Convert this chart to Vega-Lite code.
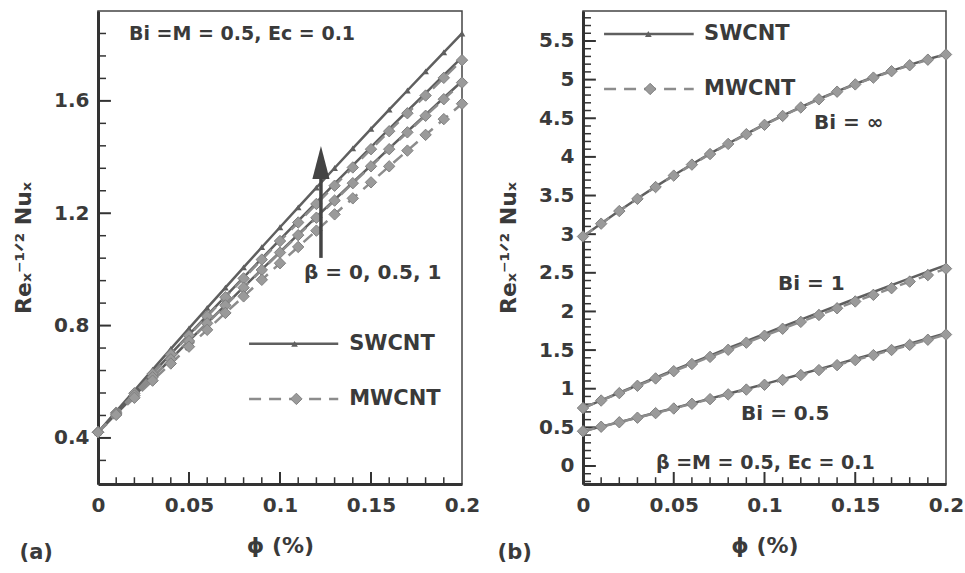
{
"$schema": "https://vega.github.io/schema/vega-lite/v6.json",
"background": "white",
"padding": {"left": 11, "top": 10, "right": 5, "bottom": 0},
"spacing": 15,
"config": {
  "view": {"stroke": "#444", "strokeWidth": 1.5},
  "font": "DejaVu Sans",
  "axis": {"grid": false, "ticks": false, "tickSize": 0, "domainColor": "#333", "domainWidth": 3, "labelFont": "DejaVu Sans", "labelFontSize": 20, "labelFontWeight": "bold", "labelColor": "#3a3a3a", "titleFont": "DejaVu Sans", "titleFontSize": 22, "titleFontWeight": "bold", "titleColor": "#3a3a3a", "labelFlush": false, "labelOverlap": false},
  "axisX": {"labelPadding": 11, "titlePadding": 20},
  "axisY": {"labelPadding": 9, "titlePadding": 18},
  "text": {"font": "DejaVu Sans", "fontWeight": "bold", "color": "#3a3a3a", "fontSize": 20, "align": "left", "baseline": "middle"}
},
"datasets": {
"a": [
{"phi":0,"nu":0.42,"fluid":"SWCNT","beta":"1"},{"phi":0.01,"nu":0.495,"fluid":"SWCNT","beta":"1"},{"phi":0.02,"nu":0.569,"fluid":"SWCNT","beta":"1"},{"phi":0.03,"nu":0.643,"fluid":"SWCNT","beta":"1"},{"phi":0.04,"nu":0.717,"fluid":"SWCNT","beta":"1"},{"phi":0.05,"nu":0.79,"fluid":"SWCNT","beta":"1"},{"phi":0.06,"nu":0.863,"fluid":"SWCNT","beta":"1"},{"phi":0.07,"nu":0.935,"fluid":"SWCNT","beta":"1"},{"phi":0.08,"nu":1.007,"fluid":"SWCNT","beta":"1"},{"phi":0.09,"nu":1.079,"fluid":"SWCNT","beta":"1"},{"phi":0.1,"nu":1.15,"fluid":"SWCNT","beta":"1"},{"phi":0.11,"nu":1.221,"fluid":"SWCNT","beta":"1"},{"phi":0.12,"nu":1.291,"fluid":"SWCNT","beta":"1"},{"phi":0.13,"nu":1.361,"fluid":"SWCNT","beta":"1"},{"phi":0.14,"nu":1.431,"fluid":"SWCNT","beta":"1"},{"phi":0.15,"nu":1.5,"fluid":"SWCNT","beta":"1"},{"phi":0.16,"nu":1.569,"fluid":"SWCNT","beta":"1"},{"phi":0.17,"nu":1.637,"fluid":"SWCNT","beta":"1"},{"phi":0.18,"nu":1.705,"fluid":"SWCNT","beta":"1"},{"phi":0.19,"nu":1.773,"fluid":"SWCNT","beta":"1"},{"phi":0.2,"nu":1.84,"fluid":"SWCNT","beta":"1"},
{"phi":0,"nu":0.42,"fluid":"SWCNT","beta":"0.5"},{"phi":0.01,"nu":0.49,"fluid":"SWCNT","beta":"0.5"},{"phi":0.02,"nu":0.56,"fluid":"SWCNT","beta":"0.5"},{"phi":0.03,"nu":0.63,"fluid":"SWCNT","beta":"0.5"},{"phi":0.04,"nu":0.699,"fluid":"SWCNT","beta":"0.5"},{"phi":0.05,"nu":0.768,"fluid":"SWCNT","beta":"0.5"},{"phi":0.06,"nu":0.836,"fluid":"SWCNT","beta":"0.5"},{"phi":0.07,"nu":0.904,"fluid":"SWCNT","beta":"0.5"},{"phi":0.08,"nu":0.972,"fluid":"SWCNT","beta":"0.5"},{"phi":0.09,"nu":1.039,"fluid":"SWCNT","beta":"0.5"},{"phi":0.1,"nu":1.106,"fluid":"SWCNT","beta":"0.5"},{"phi":0.11,"nu":1.173,"fluid":"SWCNT","beta":"0.5"},{"phi":0.12,"nu":1.239,"fluid":"SWCNT","beta":"0.5"},{"phi":0.13,"nu":1.305,"fluid":"SWCNT","beta":"0.5"},{"phi":0.14,"nu":1.37,"fluid":"SWCNT","beta":"0.5"},{"phi":0.15,"nu":1.435,"fluid":"SWCNT","beta":"0.5"},{"phi":0.16,"nu":1.5,"fluid":"SWCNT","beta":"0.5"},{"phi":0.17,"nu":1.564,"fluid":"SWCNT","beta":"0.5"},{"phi":0.18,"nu":1.628,"fluid":"SWCNT","beta":"0.5"},{"phi":0.19,"nu":1.692,"fluid":"SWCNT","beta":"0.5"},{"phi":0.2,"nu":1.755,"fluid":"SWCNT","beta":"0.5"},
{"phi":0,"nu":0.42,"fluid":"SWCNT","beta":"0"},{"phi":0.01,"nu":0.486,"fluid":"SWCNT","beta":"0"},{"phi":0.02,"nu":0.551,"fluid":"SWCNT","beta":"0"},{"phi":0.03,"nu":0.616,"fluid":"SWCNT","beta":"0"},{"phi":0.04,"nu":0.681,"fluid":"SWCNT","beta":"0"},{"phi":0.05,"nu":0.746,"fluid":"SWCNT","beta":"0"},{"phi":0.06,"nu":0.81,"fluid":"SWCNT","beta":"0"},{"phi":0.07,"nu":0.873,"fluid":"SWCNT","beta":"0"},{"phi":0.08,"nu":0.937,"fluid":"SWCNT","beta":"0"},{"phi":0.09,"nu":1.0,"fluid":"SWCNT","beta":"0"},{"phi":0.1,"nu":1.062,"fluid":"SWCNT","beta":"0"},{"phi":0.11,"nu":1.125,"fluid":"SWCNT","beta":"0"},{"phi":0.12,"nu":1.187,"fluid":"SWCNT","beta":"0"},{"phi":0.13,"nu":1.248,"fluid":"SWCNT","beta":"0"},{"phi":0.14,"nu":1.31,"fluid":"SWCNT","beta":"0"},{"phi":0.15,"nu":1.37,"fluid":"SWCNT","beta":"0"},{"phi":0.16,"nu":1.431,"fluid":"SWCNT","beta":"0"},{"phi":0.17,"nu":1.491,"fluid":"SWCNT","beta":"0"},{"phi":0.18,"nu":1.551,"fluid":"SWCNT","beta":"0"},{"phi":0.19,"nu":1.611,"fluid":"SWCNT","beta":"0"},{"phi":0.2,"nu":1.67,"fluid":"SWCNT","beta":"0"},
{"phi":0,"nu":0.42,"fluid":"MWCNT","beta":"1"},{"phi":0.01,"nu":0.49,"fluid":"MWCNT","beta":"1"},{"phi":0.02,"nu":0.559,"fluid":"MWCNT","beta":"1"},{"phi":0.03,"nu":0.628,"fluid":"MWCNT","beta":"1"},{"phi":0.04,"nu":0.697,"fluid":"MWCNT","beta":"1"},{"phi":0.05,"nu":0.765,"fluid":"MWCNT","beta":"1"},{"phi":0.06,"nu":0.833,"fluid":"MWCNT","beta":"1"},{"phi":0.07,"nu":0.901,"fluid":"MWCNT","beta":"1"},{"phi":0.08,"nu":0.968,"fluid":"MWCNT","beta":"1"},{"phi":0.09,"nu":1.035,"fluid":"MWCNT","beta":"1"},{"phi":0.1,"nu":1.101,"fluid":"MWCNT","beta":"1"},{"phi":0.11,"nu":1.167,"fluid":"MWCNT","beta":"1"},{"phi":0.12,"nu":1.233,"fluid":"MWCNT","beta":"1"},{"phi":0.13,"nu":1.298,"fluid":"MWCNT","beta":"1"},{"phi":0.14,"nu":1.363,"fluid":"MWCNT","beta":"1"},{"phi":0.15,"nu":1.428,"fluid":"MWCNT","beta":"1"},{"phi":0.16,"nu":1.492,"fluid":"MWCNT","beta":"1"},{"phi":0.17,"nu":1.556,"fluid":"MWCNT","beta":"1"},{"phi":0.18,"nu":1.619,"fluid":"MWCNT","beta":"1"},{"phi":0.19,"nu":1.682,"fluid":"MWCNT","beta":"1"},{"phi":0.2,"nu":1.745,"fluid":"MWCNT","beta":"1"},
{"phi":0,"nu":0.42,"fluid":"MWCNT","beta":"0.5"},{"phi":0.01,"nu":0.486,"fluid":"MWCNT","beta":"0.5"},{"phi":0.02,"nu":0.551,"fluid":"MWCNT","beta":"0.5"},{"phi":0.03,"nu":0.616,"fluid":"MWCNT","beta":"0.5"},{"phi":0.04,"nu":0.68,"fluid":"MWCNT","beta":"0.5"},{"phi":0.05,"nu":0.745,"fluid":"MWCNT","beta":"0.5"},{"phi":0.06,"nu":0.808,"fluid":"MWCNT","beta":"0.5"},{"phi":0.07,"nu":0.872,"fluid":"MWCNT","beta":"0.5"},{"phi":0.08,"nu":0.935,"fluid":"MWCNT","beta":"0.5"},{"phi":0.09,"nu":0.998,"fluid":"MWCNT","beta":"0.5"},{"phi":0.1,"nu":1.06,"fluid":"MWCNT","beta":"0.5"},{"phi":0.11,"nu":1.122,"fluid":"MWCNT","beta":"0.5"},{"phi":0.12,"nu":1.184,"fluid":"MWCNT","beta":"0.5"},{"phi":0.13,"nu":1.245,"fluid":"MWCNT","beta":"0.5"},{"phi":0.14,"nu":1.307,"fluid":"MWCNT","beta":"0.5"},{"phi":0.15,"nu":1.367,"fluid":"MWCNT","beta":"0.5"},{"phi":0.16,"nu":1.428,"fluid":"MWCNT","beta":"0.5"},{"phi":0.17,"nu":1.488,"fluid":"MWCNT","beta":"0.5"},{"phi":0.18,"nu":1.547,"fluid":"MWCNT","beta":"0.5"},{"phi":0.19,"nu":1.606,"fluid":"MWCNT","beta":"0.5"},{"phi":0.2,"nu":1.665,"fluid":"MWCNT","beta":"0.5"},
{"phi":0,"nu":0.42,"fluid":"MWCNT","beta":"0"},{"phi":0.01,"nu":0.482,"fluid":"MWCNT","beta":"0"},{"phi":0.02,"nu":0.543,"fluid":"MWCNT","beta":"0"},{"phi":0.03,"nu":0.604,"fluid":"MWCNT","beta":"0"},{"phi":0.04,"nu":0.665,"fluid":"MWCNT","beta":"0"},{"phi":0.05,"nu":0.725,"fluid":"MWCNT","beta":"0"},{"phi":0.06,"nu":0.785,"fluid":"MWCNT","beta":"0"},{"phi":0.07,"nu":0.845,"fluid":"MWCNT","beta":"0"},{"phi":0.08,"nu":0.904,"fluid":"MWCNT","beta":"0"},{"phi":0.09,"nu":0.963,"fluid":"MWCNT","beta":"0"},{"phi":0.1,"nu":1.022,"fluid":"MWCNT","beta":"0"},{"phi":0.11,"nu":1.08,"fluid":"MWCNT","beta":"0"},{"phi":0.12,"nu":1.138,"fluid":"MWCNT","beta":"0"},{"phi":0.13,"nu":1.196,"fluid":"MWCNT","beta":"0"},{"phi":0.14,"nu":1.253,"fluid":"MWCNT","beta":"0"},{"phi":0.15,"nu":1.31,"fluid":"MWCNT","beta":"0"},{"phi":0.16,"nu":1.367,"fluid":"MWCNT","beta":"0"},{"phi":0.17,"nu":1.423,"fluid":"MWCNT","beta":"0"},{"phi":0.18,"nu":1.479,"fluid":"MWCNT","beta":"0"},{"phi":0.19,"nu":1.535,"fluid":"MWCNT","beta":"0"},{"phi":0.2,"nu":1.59,"fluid":"MWCNT","beta":"0"}
],
"b": [
{"phi":0,"nu":2.97,"fluid":"SWCNT","Bi":"inf"},{"phi":0.01,"nu":3.139,"fluid":"SWCNT","Bi":"inf"},{"phi":0.02,"nu":3.303,"fluid":"SWCNT","Bi":"inf"},{"phi":0.03,"nu":3.462,"fluid":"SWCNT","Bi":"inf"},{"phi":0.04,"nu":3.615,"fluid":"SWCNT","Bi":"inf"},{"phi":0.05,"nu":3.763,"fluid":"SWCNT","Bi":"inf"},{"phi":0.06,"nu":3.905,"fluid":"SWCNT","Bi":"inf"},{"phi":0.07,"nu":4.042,"fluid":"SWCNT","Bi":"inf"},{"phi":0.08,"nu":4.173,"fluid":"SWCNT","Bi":"inf"},{"phi":0.09,"nu":4.299,"fluid":"SWCNT","Bi":"inf"},{"phi":0.1,"nu":4.42,"fluid":"SWCNT","Bi":"inf"},{"phi":0.11,"nu":4.535,"fluid":"SWCNT","Bi":"inf"},{"phi":0.12,"nu":4.645,"fluid":"SWCNT","Bi":"inf"},{"phi":0.13,"nu":4.75,"fluid":"SWCNT","Bi":"inf"},{"phi":0.14,"nu":4.849,"fluid":"SWCNT","Bi":"inf"},{"phi":0.15,"nu":4.943,"fluid":"SWCNT","Bi":"inf"},{"phi":0.16,"nu":5.031,"fluid":"SWCNT","Bi":"inf"},{"phi":0.17,"nu":5.114,"fluid":"SWCNT","Bi":"inf"},{"phi":0.18,"nu":5.191,"fluid":"SWCNT","Bi":"inf"},{"phi":0.19,"nu":5.263,"fluid":"SWCNT","Bi":"inf"},{"phi":0.2,"nu":5.33,"fluid":"SWCNT","Bi":"inf"},
{"phi":0,"nu":2.97,"fluid":"MWCNT","Bi":"inf"},{"phi":0.01,"nu":3.136,"fluid":"MWCNT","Bi":"inf"},{"phi":0.02,"nu":3.299,"fluid":"MWCNT","Bi":"inf"},{"phi":0.03,"nu":3.457,"fluid":"MWCNT","Bi":"inf"},{"phi":0.04,"nu":3.61,"fluid":"MWCNT","Bi":"inf"},{"phi":0.05,"nu":3.758,"fluid":"MWCNT","Bi":"inf"},{"phi":0.06,"nu":3.9,"fluid":"MWCNT","Bi":"inf"},{"phi":0.07,"nu":4.037,"fluid":"MWCNT","Bi":"inf"},{"phi":0.08,"nu":4.168,"fluid":"MWCNT","Bi":"inf"},{"phi":0.09,"nu":4.294,"fluid":"MWCNT","Bi":"inf"},{"phi":0.1,"nu":4.415,"fluid":"MWCNT","Bi":"inf"},{"phi":0.11,"nu":4.53,"fluid":"MWCNT","Bi":"inf"},{"phi":0.12,"nu":4.64,"fluid":"MWCNT","Bi":"inf"},{"phi":0.13,"nu":4.745,"fluid":"MWCNT","Bi":"inf"},{"phi":0.14,"nu":4.844,"fluid":"MWCNT","Bi":"inf"},{"phi":0.15,"nu":4.938,"fluid":"MWCNT","Bi":"inf"},{"phi":0.16,"nu":5.026,"fluid":"MWCNT","Bi":"inf"},{"phi":0.17,"nu":5.109,"fluid":"MWCNT","Bi":"inf"},{"phi":0.18,"nu":5.186,"fluid":"MWCNT","Bi":"inf"},{"phi":0.19,"nu":5.258,"fluid":"MWCNT","Bi":"inf"},{"phi":0.2,"nu":5.325,"fluid":"MWCNT","Bi":"inf"},
{"phi":0,"nu":0.75,"fluid":"SWCNT","Bi":"1"},{"phi":0.01,"nu":0.849,"fluid":"SWCNT","Bi":"1"},{"phi":0.02,"nu":0.948,"fluid":"SWCNT","Bi":"1"},{"phi":0.03,"nu":1.045,"fluid":"SWCNT","Bi":"1"},{"phi":0.04,"nu":1.142,"fluid":"SWCNT","Bi":"1"},{"phi":0.05,"nu":1.239,"fluid":"SWCNT","Bi":"1"},{"phi":0.06,"nu":1.334,"fluid":"SWCNT","Bi":"1"},{"phi":0.07,"nu":1.429,"fluid":"SWCNT","Bi":"1"},{"phi":0.08,"nu":1.524,"fluid":"SWCNT","Bi":"1"},{"phi":0.09,"nu":1.617,"fluid":"SWCNT","Bi":"1"},{"phi":0.1,"nu":1.71,"fluid":"SWCNT","Bi":"1"},{"phi":0.11,"nu":1.802,"fluid":"SWCNT","Bi":"1"},{"phi":0.12,"nu":1.894,"fluid":"SWCNT","Bi":"1"},{"phi":0.13,"nu":1.984,"fluid":"SWCNT","Bi":"1"},{"phi":0.14,"nu":2.074,"fluid":"SWCNT","Bi":"1"},{"phi":0.15,"nu":2.164,"fluid":"SWCNT","Bi":"1"},{"phi":0.16,"nu":2.252,"fluid":"SWCNT","Bi":"1"},{"phi":0.17,"nu":2.34,"fluid":"SWCNT","Bi":"1"},{"phi":0.18,"nu":2.428,"fluid":"SWCNT","Bi":"1"},{"phi":0.19,"nu":2.514,"fluid":"SWCNT","Bi":"1"},{"phi":0.2,"nu":2.6,"fluid":"SWCNT","Bi":"1"},
{"phi":0,"nu":0.75,"fluid":"MWCNT","Bi":"1"},{"phi":0.01,"nu":0.847,"fluid":"MWCNT","Bi":"1"},{"phi":0.02,"nu":0.943,"fluid":"MWCNT","Bi":"1"},{"phi":0.03,"nu":1.038,"fluid":"MWCNT","Bi":"1"},{"phi":0.04,"nu":1.133,"fluid":"MWCNT","Bi":"1"},{"phi":0.05,"nu":1.227,"fluid":"MWCNT","Bi":"1"},{"phi":0.06,"nu":1.32,"fluid":"MWCNT","Bi":"1"},{"phi":0.07,"nu":1.412,"fluid":"MWCNT","Bi":"1"},{"phi":0.08,"nu":1.504,"fluid":"MWCNT","Bi":"1"},{"phi":0.09,"nu":1.596,"fluid":"MWCNT","Bi":"1"},{"phi":0.1,"nu":1.686,"fluid":"MWCNT","Bi":"1"},{"phi":0.11,"nu":1.776,"fluid":"MWCNT","Bi":"1"},{"phi":0.12,"nu":1.865,"fluid":"MWCNT","Bi":"1"},{"phi":0.13,"nu":1.954,"fluid":"MWCNT","Bi":"1"},{"phi":0.14,"nu":2.041,"fluid":"MWCNT","Bi":"1"},{"phi":0.15,"nu":2.129,"fluid":"MWCNT","Bi":"1"},{"phi":0.16,"nu":2.215,"fluid":"MWCNT","Bi":"1"},{"phi":0.17,"nu":2.301,"fluid":"MWCNT","Bi":"1"},{"phi":0.18,"nu":2.386,"fluid":"MWCNT","Bi":"1"},{"phi":0.19,"nu":2.47,"fluid":"MWCNT","Bi":"1"},{"phi":0.2,"nu":2.554,"fluid":"MWCNT","Bi":"1"},
{"phi":0,"nu":0.45,"fluid":"SWCNT","Bi":"0.5"},{"phi":0.01,"nu":0.509,"fluid":"SWCNT","Bi":"0.5"},{"phi":0.02,"nu":0.568,"fluid":"SWCNT","Bi":"0.5"},{"phi":0.03,"nu":0.628,"fluid":"SWCNT","Bi":"0.5"},{"phi":0.04,"nu":0.688,"fluid":"SWCNT","Bi":"0.5"},{"phi":0.05,"nu":0.749,"fluid":"SWCNT","Bi":"0.5"},{"phi":0.06,"nu":0.81,"fluid":"SWCNT","Bi":"0.5"},{"phi":0.07,"nu":0.872,"fluid":"SWCNT","Bi":"0.5"},{"phi":0.08,"nu":0.934,"fluid":"SWCNT","Bi":"0.5"},{"phi":0.09,"nu":0.997,"fluid":"SWCNT","Bi":"0.5"},{"phi":0.1,"nu":1.06,"fluid":"SWCNT","Bi":"0.5"},{"phi":0.11,"nu":1.124,"fluid":"SWCNT","Bi":"0.5"},{"phi":0.12,"nu":1.188,"fluid":"SWCNT","Bi":"0.5"},{"phi":0.13,"nu":1.253,"fluid":"SWCNT","Bi":"0.5"},{"phi":0.14,"nu":1.318,"fluid":"SWCNT","Bi":"0.5"},{"phi":0.15,"nu":1.384,"fluid":"SWCNT","Bi":"0.5"},{"phi":0.16,"nu":1.45,"fluid":"SWCNT","Bi":"0.5"},{"phi":0.17,"nu":1.517,"fluid":"SWCNT","Bi":"0.5"},{"phi":0.18,"nu":1.584,"fluid":"SWCNT","Bi":"0.5"},{"phi":0.19,"nu":1.652,"fluid":"SWCNT","Bi":"0.5"},{"phi":0.2,"nu":1.72,"fluid":"SWCNT","Bi":"0.5"},
{"phi":0,"nu":0.45,"fluid":"MWCNT","Bi":"0.5"},{"phi":0.01,"nu":0.508,"fluid":"MWCNT","Bi":"0.5"},{"phi":0.02,"nu":0.566,"fluid":"MWCNT","Bi":"0.5"},{"phi":0.03,"nu":0.625,"fluid":"MWCNT","Bi":"0.5"},{"phi":0.04,"nu":0.684,"fluid":"MWCNT","Bi":"0.5"},{"phi":0.05,"nu":0.744,"fluid":"MWCNT","Bi":"0.5"},{"phi":0.06,"nu":0.805,"fluid":"MWCNT","Bi":"0.5"},{"phi":0.07,"nu":0.865,"fluid":"MWCNT","Bi":"0.5"},{"phi":0.08,"nu":0.927,"fluid":"MWCNT","Bi":"0.5"},{"phi":0.09,"nu":0.989,"fluid":"MWCNT","Bi":"0.5"},{"phi":0.1,"nu":1.051,"fluid":"MWCNT","Bi":"0.5"},{"phi":0.11,"nu":1.114,"fluid":"MWCNT","Bi":"0.5"},{"phi":0.12,"nu":1.177,"fluid":"MWCNT","Bi":"0.5"},{"phi":0.13,"nu":1.241,"fluid":"MWCNT","Bi":"0.5"},{"phi":0.14,"nu":1.305,"fluid":"MWCNT","Bi":"0.5"},{"phi":0.15,"nu":1.37,"fluid":"MWCNT","Bi":"0.5"},{"phi":0.16,"nu":1.435,"fluid":"MWCNT","Bi":"0.5"},{"phi":0.17,"nu":1.501,"fluid":"MWCNT","Bi":"0.5"},{"phi":0.18,"nu":1.567,"fluid":"MWCNT","Bi":"0.5"},{"phi":0.19,"nu":1.634,"fluid":"MWCNT","Bi":"0.5"},{"phi":0.2,"nu":1.701,"fluid":"MWCNT","Bi":"0.5"}
],
"tickMajA": [
{"id":"y1","phi":0,"nu":0.4},{"id":"y1","phi":0.0071,"nu":0.4},{"id":"y2","phi":0,"nu":0.8},{"id":"y2","phi":0.0071,"nu":0.8},{"id":"y3","phi":0,"nu":1.2},{"id":"y3","phi":0.0071,"nu":1.2},{"id":"y4","phi":0,"nu":1.6},{"id":"y4","phi":0.0071,"nu":1.6},
{"id":"x1","phi":0.05,"nu":0.236},{"id":"x1","phi":0.05,"nu":0.279},{"id":"x2","phi":0.1,"nu":0.236},{"id":"x2","phi":0.1,"nu":0.279},{"id":"x3","phi":0.15,"nu":0.236},{"id":"x3","phi":0.15,"nu":0.279}
],
"tickMinA": [
{"id":"y1","phi":0,"nu":0.32},{"id":"y1","phi":0.0044,"nu":0.32},{"id":"y2","phi":0,"nu":0.48},{"id":"y2","phi":0.0044,"nu":0.48},{"id":"y3","phi":0,"nu":0.56},{"id":"y3","phi":0.0044,"nu":0.56},{"id":"y4","phi":0,"nu":0.64},{"id":"y4","phi":0.0044,"nu":0.64},{"id":"y5","phi":0,"nu":0.72},{"id":"y5","phi":0.0044,"nu":0.72},{"id":"y6","phi":0,"nu":0.88},{"id":"y6","phi":0.0044,"nu":0.88},{"id":"y7","phi":0,"nu":0.96},{"id":"y7","phi":0.0044,"nu":0.96},{"id":"y8","phi":0,"nu":1.04},{"id":"y8","phi":0.0044,"nu":1.04},{"id":"y9","phi":0,"nu":1.12},{"id":"y9","phi":0.0044,"nu":1.12},{"id":"y10","phi":0,"nu":1.28},{"id":"y10","phi":0.0044,"nu":1.28},{"id":"y11","phi":0,"nu":1.36},{"id":"y11","phi":0.0044,"nu":1.36},{"id":"y12","phi":0,"nu":1.44},{"id":"y12","phi":0.0044,"nu":1.44},{"id":"y13","phi":0,"nu":1.52},{"id":"y13","phi":0.0044,"nu":1.52},{"id":"y14","phi":0,"nu":1.68},{"id":"y14","phi":0.0044,"nu":1.68},{"id":"y15","phi":0,"nu":1.76},{"id":"y15","phi":0.0044,"nu":1.76},{"id":"y16","phi":0,"nu":1.84},{"id":"y16","phi":0.0044,"nu":1.84},
{"id":"x1","phi":0.01,"nu":0.236},{"id":"x1","phi":0.01,"nu":0.26},{"id":"x2","phi":0.02,"nu":0.236},{"id":"x2","phi":0.02,"nu":0.26},{"id":"x3","phi":0.03,"nu":0.236},{"id":"x3","phi":0.03,"nu":0.26},{"id":"x4","phi":0.04,"nu":0.236},{"id":"x4","phi":0.04,"nu":0.26},{"id":"x6","phi":0.06,"nu":0.236},{"id":"x6","phi":0.06,"nu":0.26},{"id":"x7","phi":0.07,"nu":0.236},{"id":"x7","phi":0.07,"nu":0.26},{"id":"x8","phi":0.08,"nu":0.236},{"id":"x8","phi":0.08,"nu":0.26},{"id":"x9","phi":0.09,"nu":0.236},{"id":"x9","phi":0.09,"nu":0.26},{"id":"x11","phi":0.11,"nu":0.236},{"id":"x11","phi":0.11,"nu":0.26},{"id":"x12","phi":0.12,"nu":0.236},{"id":"x12","phi":0.12,"nu":0.26},{"id":"x13","phi":0.13,"nu":0.236},{"id":"x13","phi":0.13,"nu":0.26},{"id":"x14","phi":0.14,"nu":0.236},{"id":"x14","phi":0.14,"nu":0.26},{"id":"x16","phi":0.16,"nu":0.236},{"id":"x16","phi":0.16,"nu":0.26},{"id":"x17","phi":0.17,"nu":0.236},{"id":"x17","phi":0.17,"nu":0.26},{"id":"x18","phi":0.18,"nu":0.236},{"id":"x18","phi":0.18,"nu":0.26},{"id":"x19","phi":0.19,"nu":0.236},{"id":"x19","phi":0.19,"nu":0.26}
],
"tickMajB": [
{"id":"y0","phi":0,"nu":0},{"id":"y0","phi":0.0071,"nu":0},{"id":"y1","phi":0,"nu":0.5},{"id":"y1","phi":0.0071,"nu":0.5},{"id":"y2","phi":0,"nu":1},{"id":"y2","phi":0.0071,"nu":1},{"id":"y3","phi":0,"nu":1.5},{"id":"y3","phi":0.0071,"nu":1.5},{"id":"y4","phi":0,"nu":2},{"id":"y4","phi":0.0071,"nu":2},{"id":"y5","phi":0,"nu":2.5},{"id":"y5","phi":0.0071,"nu":2.5},{"id":"y6","phi":0,"nu":3},{"id":"y6","phi":0.0071,"nu":3},{"id":"y7","phi":0,"nu":3.5},{"id":"y7","phi":0.0071,"nu":3.5},{"id":"y8","phi":0,"nu":4},{"id":"y8","phi":0.0071,"nu":4},{"id":"y9","phi":0,"nu":4.5},{"id":"y9","phi":0.0071,"nu":4.5},{"id":"y10","phi":0,"nu":5},{"id":"y10","phi":0.0071,"nu":5},{"id":"y11","phi":0,"nu":5.5},{"id":"y11","phi":0.0071,"nu":5.5},
{"id":"x1","phi":0.05,"nu":-0.233},{"id":"x1","phi":0.05,"nu":-0.078},{"id":"x2","phi":0.1,"nu":-0.233},{"id":"x2","phi":0.1,"nu":-0.078},{"id":"x3","phi":0.15,"nu":-0.233},{"id":"x3","phi":0.15,"nu":-0.078}
],
"tickMinB": [
{"id":"a1","phi":0,"nu":-0.2},{"id":"a1","phi":0.0044,"nu":-0.2},{"id":"a2","phi":0,"nu":-0.1},{"id":"a2","phi":0.0044,"nu":-0.1},
{"id":"b1","phi":0,"nu":0.1},{"id":"b1","phi":0.0044,"nu":0.1},{"id":"b2","phi":0,"nu":0.2},{"id":"b2","phi":0.0044,"nu":0.2},{"id":"b3","phi":0,"nu":0.3},{"id":"b3","phi":0.0044,"nu":0.3},{"id":"b4","phi":0,"nu":0.4},{"id":"b4","phi":0.0044,"nu":0.4},
{"id":"c1","phi":0,"nu":0.6},{"id":"c1","phi":0.0044,"nu":0.6},{"id":"c2","phi":0,"nu":0.7},{"id":"c2","phi":0.0044,"nu":0.7},{"id":"c3","phi":0,"nu":0.8},{"id":"c3","phi":0.0044,"nu":0.8},{"id":"c4","phi":0,"nu":0.9},{"id":"c4","phi":0.0044,"nu":0.9},
{"id":"d1","phi":0,"nu":1.1},{"id":"d1","phi":0.0044,"nu":1.1},{"id":"d2","phi":0,"nu":1.2},{"id":"d2","phi":0.0044,"nu":1.2},{"id":"d3","phi":0,"nu":1.3},{"id":"d3","phi":0.0044,"nu":1.3},{"id":"d4","phi":0,"nu":1.4},{"id":"d4","phi":0.0044,"nu":1.4},
{"id":"e1","phi":0,"nu":1.6},{"id":"e1","phi":0.0044,"nu":1.6},{"id":"e2","phi":0,"nu":1.7},{"id":"e2","phi":0.0044,"nu":1.7},{"id":"e3","phi":0,"nu":1.8},{"id":"e3","phi":0.0044,"nu":1.8},{"id":"e4","phi":0,"nu":1.9},{"id":"e4","phi":0.0044,"nu":1.9},
{"id":"f1","phi":0,"nu":2.1},{"id":"f1","phi":0.0044,"nu":2.1},{"id":"f2","phi":0,"nu":2.2},{"id":"f2","phi":0.0044,"nu":2.2},{"id":"f3","phi":0,"nu":2.3},{"id":"f3","phi":0.0044,"nu":2.3},{"id":"f4","phi":0,"nu":2.4},{"id":"f4","phi":0.0044,"nu":2.4},
{"id":"g1","phi":0,"nu":2.6},{"id":"g1","phi":0.0044,"nu":2.6},{"id":"g2","phi":0,"nu":2.7},{"id":"g2","phi":0.0044,"nu":2.7},{"id":"g3","phi":0,"nu":2.8},{"id":"g3","phi":0.0044,"nu":2.8},{"id":"g4","phi":0,"nu":2.9},{"id":"g4","phi":0.0044,"nu":2.9},
{"id":"h1","phi":0,"nu":3.1},{"id":"h1","phi":0.0044,"nu":3.1},{"id":"h2","phi":0,"nu":3.2},{"id":"h2","phi":0.0044,"nu":3.2},{"id":"h3","phi":0,"nu":3.3},{"id":"h3","phi":0.0044,"nu":3.3},{"id":"h4","phi":0,"nu":3.4},{"id":"h4","phi":0.0044,"nu":3.4},
{"id":"i1","phi":0,"nu":3.6},{"id":"i1","phi":0.0044,"nu":3.6},{"id":"i2","phi":0,"nu":3.7},{"id":"i2","phi":0.0044,"nu":3.7},{"id":"i3","phi":0,"nu":3.8},{"id":"i3","phi":0.0044,"nu":3.8},{"id":"i4","phi":0,"nu":3.9},{"id":"i4","phi":0.0044,"nu":3.9},
{"id":"j1","phi":0,"nu":4.1},{"id":"j1","phi":0.0044,"nu":4.1},{"id":"j2","phi":0,"nu":4.2},{"id":"j2","phi":0.0044,"nu":4.2},{"id":"j3","phi":0,"nu":4.3},{"id":"j3","phi":0.0044,"nu":4.3},{"id":"j4","phi":0,"nu":4.4},{"id":"j4","phi":0.0044,"nu":4.4},
{"id":"k1","phi":0,"nu":4.6},{"id":"k1","phi":0.0044,"nu":4.6},{"id":"k2","phi":0,"nu":4.7},{"id":"k2","phi":0.0044,"nu":4.7},{"id":"k3","phi":0,"nu":4.8},{"id":"k3","phi":0.0044,"nu":4.8},{"id":"k4","phi":0,"nu":4.9},{"id":"k4","phi":0.0044,"nu":4.9},
{"id":"l1","phi":0,"nu":5.1},{"id":"l1","phi":0.0044,"nu":5.1},{"id":"l2","phi":0,"nu":5.2},{"id":"l2","phi":0.0044,"nu":5.2},{"id":"l3","phi":0,"nu":5.3},{"id":"l3","phi":0.0044,"nu":5.3},{"id":"l4","phi":0,"nu":5.4},{"id":"l4","phi":0.0044,"nu":5.4},
{"id":"m1","phi":0,"nu":5.6},{"id":"m1","phi":0.0044,"nu":5.6},{"id":"m2","phi":0,"nu":5.7},{"id":"m2","phi":0.0044,"nu":5.7},{"id":"m3","phi":0,"nu":5.8},{"id":"m3","phi":0.0044,"nu":5.8},
{"id":"x1","phi":0.01,"nu":-0.233},{"id":"x1","phi":0.01,"nu":-0.145},{"id":"x2","phi":0.02,"nu":-0.233},{"id":"x2","phi":0.02,"nu":-0.145},{"id":"x3","phi":0.03,"nu":-0.233},{"id":"x3","phi":0.03,"nu":-0.145},{"id":"x4","phi":0.04,"nu":-0.233},{"id":"x4","phi":0.04,"nu":-0.145},{"id":"x6","phi":0.06,"nu":-0.233},{"id":"x6","phi":0.06,"nu":-0.145},{"id":"x7","phi":0.07,"nu":-0.233},{"id":"x7","phi":0.07,"nu":-0.145},{"id":"x8","phi":0.08,"nu":-0.233},{"id":"x8","phi":0.08,"nu":-0.145},{"id":"x9","phi":0.09,"nu":-0.233},{"id":"x9","phi":0.09,"nu":-0.145},{"id":"x11","phi":0.11,"nu":-0.233},{"id":"x11","phi":0.11,"nu":-0.145},{"id":"x12","phi":0.12,"nu":-0.233},{"id":"x12","phi":0.12,"nu":-0.145},{"id":"x13","phi":0.13,"nu":-0.233},{"id":"x13","phi":0.13,"nu":-0.145},{"id":"x14","phi":0.14,"nu":-0.233},{"id":"x14","phi":0.14,"nu":-0.145},{"id":"x16","phi":0.16,"nu":-0.233},{"id":"x16","phi":0.16,"nu":-0.145},{"id":"x17","phi":0.17,"nu":-0.233},{"id":"x17","phi":0.17,"nu":-0.145},{"id":"x18","phi":0.18,"nu":-0.233},{"id":"x18","phi":0.18,"nu":-0.145},{"id":"x19","phi":0.19,"nu":-0.233},{"id":"x19","phi":0.19,"nu":-0.145}
]
},
"hconcat": [
{
  "width": 364, "height": 473,
  "title": {"text": "(a)", "orient": "bottom", "anchor": "start", "frame": "bounds", "offset": -14, "dx": 7, "fontSize": 21, "fontWeight": "bold", "font": "DejaVu Sans", "color": "#3a3a3a"},
  "encoding": {
    "x": {"field": "phi", "type": "quantitative", "scale": {"domain": [0, 0.2], "nice": false, "zero": false}, "axis": {"values": [0, 0.05, 0.1, 0.15, 0.2], "labelExpr": "'' + datum.value", "title": "ϕ (%)"}},
    "y": {"field": "nu", "type": "quantitative", "scale": {"domain": [0.236, 1.92], "nice": false, "zero": false}, "axis": {"values": [0.4, 0.8, 1.2, 1.6], "labelExpr": "'' + datum.value", "title": "Reₓ⁻¹ᐟ² Nuₓ"}}
  },
  "layer": [
    {"data": {"name": "tickMajA"}, "mark": {"type": "line", "color": "#333", "strokeWidth": 2}, "encoding": {"detail": {"field": "id"}}},
    {"data": {"name": "tickMinA"}, "mark": {"type": "line", "color": "#333", "strokeWidth": 1.5}, "encoding": {"detail": {"field": "id"}}},
    {"data": {"name": "a"}, "transform": [{"filter": "datum.fluid === 'SWCNT'"}], "mark": {"type": "line", "color": "#5f5f5f", "strokeWidth": 2.5}, "encoding": {"detail": {"field": "beta"}}},
    {"data": {"name": "a"}, "transform": [{"filter": "datum.fluid === 'SWCNT'"}], "mark": {"type": "point", "shape": "triangle-up", "filled": true, "size": 45, "color": "#5f5f5f", "opacity": 1}, "encoding": {}},
    {"data": {"name": "a"}, "transform": [{"filter": "datum.fluid === 'MWCNT'"}], "mark": {"type": "line", "color": "#8c8c8c", "strokeWidth": 2.5, "strokeDash": [12, 8]}, "encoding": {"detail": {"field": "beta"}}},
    {"data": {"name": "a"}, "transform": [{"filter": "datum.fluid === 'MWCNT'"}], "mark": {"type": "point", "shape": "diamond", "filled": true, "size": 130, "fill": "#9a9a9a", "stroke": "#808080", "strokeWidth": 1, "opacity": 1}, "encoding": {}},
    {"data": {"values": [{"phi": 0.083, "phi2": 0.132, "nu": 0.735}]}, "mark": {"type": "rule", "color": "#5f5f5f", "strokeWidth": 2.5}, "encoding": {"x2": {"field": "phi2"}}},
    {"data": {"values": [{"phi": 0.108, "nu": 0.735}]}, "mark": {"type": "point", "shape": "triangle-up", "filled": true, "size": 45, "color": "#5f5f5f", "opacity": 1}, "encoding": {}},
    {"data": {"values": [{"phi": 0.083, "phi2": 0.132, "nu": 0.539}]}, "mark": {"type": "rule", "color": "#8c8c8c", "strokeWidth": 2.5, "strokeDash": [12, 8]}, "encoding": {"x2": {"field": "phi2"}}},
    {"data": {"values": [{"phi": 0.109, "nu": 0.539}]}, "mark": {"type": "point", "shape": "diamond", "filled": true, "size": 130, "fill": "#9a9a9a", "stroke": "#808080", "strokeWidth": 1, "opacity": 1}, "encoding": {}},
    {"data": {"values": [{"phi": 0.138, "nu": 0.735, "label": "SWCNT"}, {"phi": 0.138, "nu": 0.539, "label": "MWCNT"}]}, "mark": {"type": "text", "fontSize": 21}, "encoding": {"text": {"field": "label"}}},
    {"data": {"values": [{"phi": 0.017, "nu": 1.839, "label": "Bi =M = 0.5, Ec = 0.1"}]}, "mark": {"type": "text", "fontSize": 19}, "encoding": {"text": {"field": "label"}}},
    {"data": {"values": [{"phi": 0.1132, "nu": 0.987, "label": "β = 0, 0.5, 1"}]}, "mark": {"type": "text", "fontSize": 20}, "encoding": {"text": {"field": "label"}}},
    {"data": {"values": [{"phi": 0.1225, "nu": 1.041, "nu2": 1.34}]}, "mark": {"type": "rule", "color": "#444", "strokeWidth": 3.5}, "encoding": {"y2": {"field": "nu2"}}},
    {"data": {"values": [{"phi": 0.1225, "nu": 1.381}]}, "mark": {"type": "point", "shape": "M0,-1L0.52,1L-0.52,1Z", "filled": true, "size": 1089, "color": "#444", "opacity": 1}, "encoding": {}}
  ]
},
{
  "width": 363, "height": 473,
  "title": {"text": "(b)", "orient": "bottom", "anchor": "start", "frame": "bounds", "offset": -14, "dx": 0, "fontSize": 21, "fontWeight": "bold", "font": "DejaVu Sans", "color": "#3a3a3a"},
  "encoding": {
    "x": {"field": "phi", "type": "quantitative", "scale": {"domain": [0, 0.2], "nice": false, "zero": false}, "axis": {"values": [0, 0.05, 0.1, 0.15, 0.2], "labelExpr": "'' + datum.value", "title": "ϕ (%)"}},
    "y": {"field": "nu", "type": "quantitative", "scale": {"domain": [-0.233, 5.888], "nice": false, "zero": false}, "axis": {"values": [0, 0.5, 1, 1.5, 2, 2.5, 3, 3.5, 4, 4.5, 5, 5.5], "labelExpr": "'' + datum.value", "title": "Reₓ⁻¹ᐟ² Nuₓ"}}
  },
  "layer": [
    {"data": {"name": "tickMajB"}, "mark": {"type": "line", "color": "#333", "strokeWidth": 2}, "encoding": {"detail": {"field": "id"}}},
    {"data": {"name": "tickMinB"}, "mark": {"type": "line", "color": "#333", "strokeWidth": 1.5}, "encoding": {"detail": {"field": "id"}}},
    {"data": {"name": "b"}, "transform": [{"filter": "datum.fluid === 'SWCNT'"}], "mark": {"type": "line", "color": "#5f5f5f", "strokeWidth": 2.5}, "encoding": {"detail": {"field": "Bi"}}},
    {"data": {"name": "b"}, "transform": [{"filter": "datum.fluid === 'SWCNT'"}], "mark": {"type": "point", "shape": "triangle-up", "filled": true, "size": 45, "color": "#5f5f5f", "opacity": 1}, "encoding": {}},
    {"data": {"name": "b"}, "transform": [{"filter": "datum.fluid === 'MWCNT'"}], "mark": {"type": "line", "color": "#8c8c8c", "strokeWidth": 2.5, "strokeDash": [12, 8]}, "encoding": {"detail": {"field": "Bi"}}},
    {"data": {"name": "b"}, "transform": [{"filter": "datum.fluid === 'MWCNT'"}], "mark": {"type": "point", "shape": "diamond", "filled": true, "size": 130, "fill": "#9a9a9a", "stroke": "#808080", "strokeWidth": 1, "opacity": 1}, "encoding": {}},
    {"data": {"values": [{"phi": 0.0116, "phi2": 0.061, "nu": 5.59}]}, "mark": {"type": "rule", "color": "#5f5f5f", "strokeWidth": 2.5}, "encoding": {"x2": {"field": "phi2"}}},
    {"data": {"values": [{"phi": 0.036, "nu": 5.59}]}, "mark": {"type": "point", "shape": "triangle-up", "filled": true, "size": 45, "color": "#5f5f5f", "opacity": 1}, "encoding": {}},
    {"data": {"values": [{"phi": 0.0116, "phi2": 0.061, "nu": 4.879}]}, "mark": {"type": "rule", "color": "#8c8c8c", "strokeWidth": 2.5, "strokeDash": [12, 8]}, "encoding": {"x2": {"field": "phi2"}}},
    {"data": {"values": [{"phi": 0.037, "nu": 4.879}]}, "mark": {"type": "point", "shape": "diamond", "filled": true, "size": 130, "fill": "#9a9a9a", "stroke": "#808080", "strokeWidth": 1, "opacity": 1}, "encoding": {}},
    {"data": {"values": [{"phi": 0.0667, "nu": 5.59, "label": "SWCNT"}, {"phi": 0.0667, "nu": 4.879, "label": "MWCNT"}]}, "mark": {"type": "text", "fontSize": 21}, "encoding": {"text": {"field": "label"}}},
    {"data": {"values": [{"phi": 0.1273, "nu": 4.437, "label": "Bi = ∞"}, {"phi": 0.1074, "nu": 2.355, "label": "Bi = 1"}, {"phi": 0.0871, "nu": 0.673, "label": "Bi = 0.5"}]}, "mark": {"type": "text", "fontSize": 20}, "encoding": {"text": {"field": "label"}}},
    {"data": {"values": [{"phi": 0.0402, "nu": 0.039, "label": "β =M = 0.5, Ec = 0.1"}]}, "mark": {"type": "text", "fontSize": 19}, "encoding": {"text": {"field": "label"}}}
  ]
}
]
}
